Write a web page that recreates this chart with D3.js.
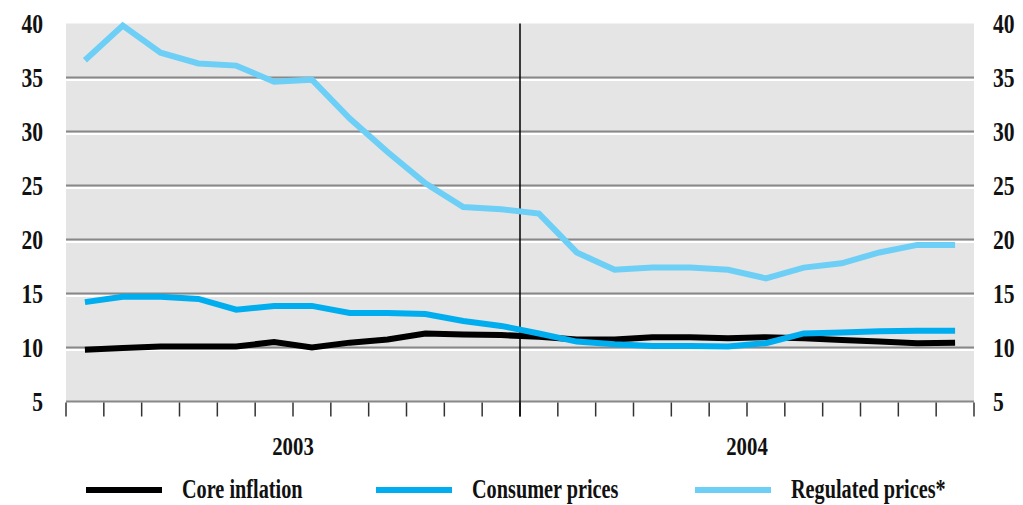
<!DOCTYPE html>
<html>
<head>
<meta charset="utf-8">
<title>inflation</title>
<style>
  body { margin: 0; background: #fff; }
  text { font-family: "Liberation Serif", "DejaVu Serif", serif; font-weight: bold; fill: #111; }
</style>
<script src="https://cdn.jsdelivr.net/npm/d3@7"></script>
</head>
<body>
<svg id="chart" width="1023" height="505"></svg>
<script>
// monthly values, Jan 2003 .. Dec 2004
var months = d3.range(24);
var years = ["2003", "2004"];
var yTicks = [5, 10, 15, 20, 25, 30, 35, 40];

var coreInflation = [9.8, 9.95, 10.1, 10.1, 10.1, 10.5, 10.0, 10.45, 10.75, 11.3, 11.2, 11.15,
                     11.0, 10.75, 10.75, 10.95, 10.95, 10.85, 10.95, 10.85, 10.7, 10.55, 10.4, 10.45];
var consumerPrices = [14.2, 14.7, 14.7, 14.5, 13.5, 13.85, 13.85, 13.2, 13.2, 13.1, 12.45, 12.0,
                      11.3, 10.55, 10.3, 10.15, 10.15, 10.1, 10.4, 11.3, 11.4, 11.5, 11.55, 11.55];
var regulatedPrices = [36.6, 39.8, 37.3, 36.3, 36.1, 34.6, 34.8, 31.2, 28.1, 25.2, 23.0, 22.8,
                       22.4, 18.8, 17.2, 17.4, 17.4, 17.2, 16.4, 17.4, 17.8, 18.8, 19.5, 19.5];

var seriesNames = ["Core inflation", "Consumer prices", "Regulated prices*"];
var seriesColors = ["#000000", "#00aeef", "#6dcff6"];
var seriesData = [coreInflation, consumerPrices, regulatedPrices];

var svg = d3.select("#chart");
// (don't call it "top" - clashes with window.top)
var plotL = 66, plotR = 974, plotT = 23.5, plotB = 401.5;

var x = d3.scaleLinear().domain([0, 24]).range([plotL, plotR]);
var y = d3.scaleLinear().domain([5, 40]).range([plotB, plotT]);

// condensed serif look: squeeze a normal bold serif horizontally
function label(g, tx, ty, str, anchor, size, sx) {
    g.append("g")
        .attr("transform", "translate(" + tx + "," + ty + ") scale(" + (sx || 0.8) + ",1)")
        .append("text")
        .attr("text-anchor", anchor)
        .attr("font-size", size)
        .text(str);
}

// plot background
svg.append("rect")
    .attr("x", plotL).attr("y", plotT)
    .attr("width", plotR - plotL).attr("height", plotB - plotT)
    .attr("fill", "#e5e5e5");

// gridlines: grey line with a white line under it
var grid = svg.append("g");
yTicks.filter(function(v) { return v < 40; }).forEach(function(v) {
    grid.append("line")
        .attr("x1", plotL).attr("x2", plotR)
        .attr("y1", y(v)).attr("y2", y(v))
        .attr("stroke", "#888").attr("stroke-width", 2);
    if (v > 5) {
        grid.append("line")
            .attr("x1", plotL).attr("x2", plotR)
            .attr("y1", y(v) + 2.5).attr("y2", y(v) + 2.5)
            .attr("stroke", "#fff").attr("stroke-width", 2);
    }
});

// month ticks
svg.append("g").selectAll("line")
    .data(d3.range(25))
    .enter().append("line")
    .attr("x1", function(d) { return x(d); })
    .attr("x2", function(d) { return x(d); })
    .attr("y1", plotB + 1).attr("y2", plotB + 15)
    .attr("stroke", "#333").attr("stroke-width", 1.5);

// year divider
svg.append("line")
    .attr("x1", x(12)).attr("x2", x(12))
    .attr("y1", plotT).attr("y2", plotB + 15)
    .attr("stroke", "#000").attr("stroke-width", 1.5);

// lines (consumer sits on top of core where they cross)
var line = d3.line()
    .x(function(d, i) { return x(i + 0.5); })
    .y(function(d) { return y(d); });

[0, 1, 2].forEach(function(k) {
    svg.append("path")
        .datum(seriesData[k])
        .attr("d", line)
        .attr("fill", "none")
        .attr("stroke", seriesColors[k])
        .attr("stroke-width", 6)
        .attr("stroke-linejoin", "miter");
});

// y labels both sides
var axisText = svg.append("g");
yTicks.forEach(function(v) {
    label(axisText, 43, y(v) + 9, String(v), "end", 27);
    label(axisText, 993, y(v) + 9, String(v), "start", 27);
});

// year labels
years.forEach(function(yr, i) {
    label(axisText, x(i * 12 + 6), 455, yr, "middle", 26);
});

// legend
var legendX = [86, 376, 695];
var leg = svg.append("g");
seriesNames.forEach(function(name, i) {
    leg.append("line")
        .attr("x1", legendX[i]).attr("x2", legendX[i] + 76)
        .attr("y1", 490).attr("y2", 490)
        .attr("stroke", seriesColors[i]).attr("stroke-width", 6);
    label(leg, legendX[i] + 96, 498, name, "start", 27, 0.75);
});
</script>
</body>
</html>
